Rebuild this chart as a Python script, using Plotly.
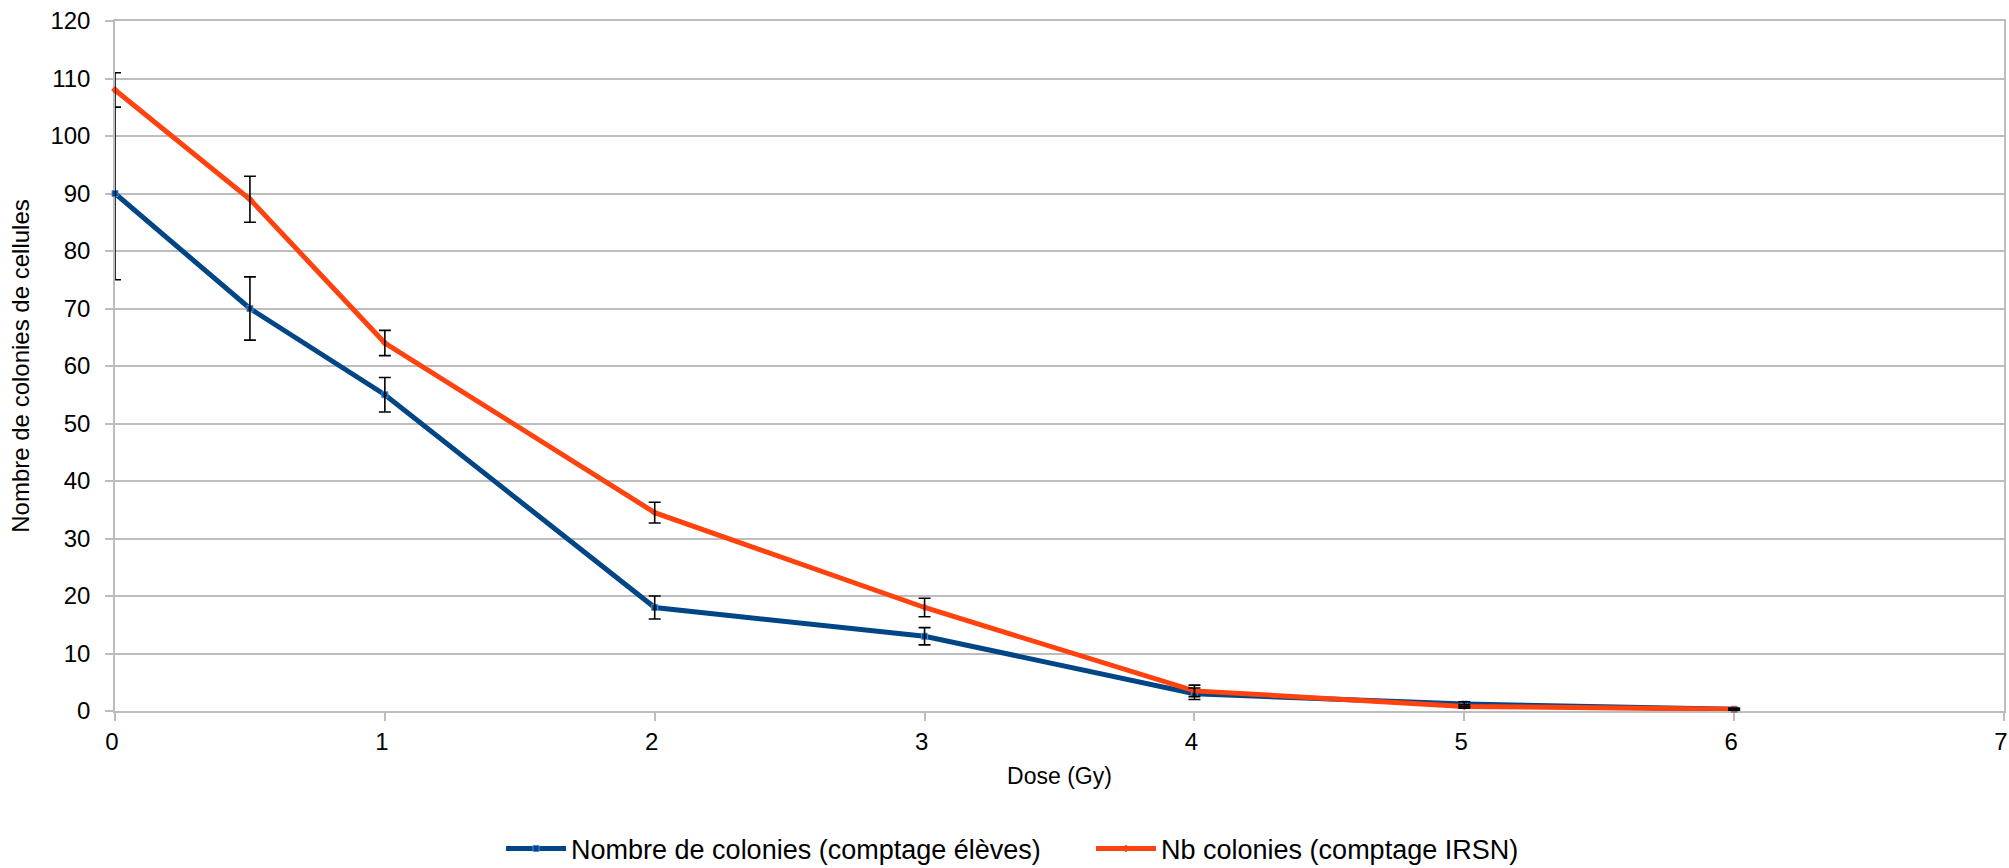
import plotly.graph_objects as go

dose = [0, 0.5, 1, 2, 3, 4, 5, 6]
eleves = [90, 70, 55, 18, 13, 3, 1.2, 0.3]
eleves_err = [15, 5.5, 3, 2, 1.5, 1, 0.4, 0.2]
irsn = [108, 89, 64, 34.5, 18, 3.5, 0.8, 0.3]
irsn_err = [3, 4, 2.2, 1.8, 1.6, 1, 0.3, 0.1]

name_eleves = "Nombre de colonies (comptage élèves)"
name_irsn = "Nb colonies (comptage IRSN)"
x_title = "Dose (Gy)"
y_title = "Nombre de colonies de cellules"
x_ticks = [0, 1, 2, 3, 4, 5, 6, 7]
y_ticks = [0, 10, 20, 30, 40, 50, 60, 70, 80, 90, 100, 110, 120]

BLUE = "#004586"
ORANGE = "#ff420e"
GRID = "#bdbdbd"
FONT = "Liberation Sans, Arial, sans-serif"

fig = go.Figure()
fig.add_trace(go.Scatter(
    x=dose, y=eleves, name=name_eleves, mode="lines+markers",
    line=dict(color=BLUE, width=5),
    marker=dict(symbol="square", size=6, color=BLUE, line=dict(color="#4f8fd6", width=1)),
    cliponaxis=False,
))
fig.add_trace(go.Scatter(
    x=dose, y=irsn, name=name_irsn, mode="lines+markers",
    line=dict(color=ORANGE, width=5),
    marker=dict(symbol="diamond", size=6, color=ORANGE),
    cliponaxis=False,
))
# error bars drawn on top
for vals, errs in ((eleves, eleves_err), (irsn, irsn_err)):
    fig.add_trace(go.Scatter(
        x=dose, y=vals, mode="markers", showlegend=False, hoverinfo="skip",
        marker=dict(size=1, color="rgba(0,0,0,0)"),
        error_y=dict(type="data", array=errs, visible=True, color="#000000",
                     thickness=1.6, width=6),
        cliponaxis=False,
    ))

fig.update_layout(
    width=2009, height=868,
    margin=dict(l=115, r=5, t=21, b=157, autoexpand=False),
    paper_bgcolor="white", plot_bgcolor="white",
    font=dict(family=FONT, size=24, color="#000000"),
    showlegend=True,
    legend=dict(orientation="h", xref="container", x=0.2494, xanchor="left",
                yref="container", y=0.022, yanchor="middle",
                font=dict(size=27), bgcolor="rgba(0,0,0,0)", itemwidth=60,
                entrywidth=515, entrywidthmode="pixels"),
)
fig.update_xaxes(
    range=[0, 7], tickvals=x_ticks, ticktext=[str(v) for v in x_ticks],
    showgrid=False, zeroline=False, automargin=False, layer="below traces",
    showline=True, linecolor=GRID, linewidth=1.5, mirror=True,
    ticks="outside", ticklen=8, tickcolor=GRID, tickwidth=1.5,
    tickfont=dict(size=24), ticklabeloverflow="allow", ticklabelstandoff=0,
    ticklabelshift=-3,
    title=dict(text=x_title, font=dict(size=23), standoff=14),
)
fig.update_yaxes(
    range=[0, 120], tickvals=y_ticks, ticktext=[str(v) for v in y_ticks],
    showgrid=True, gridcolor=GRID, gridwidth=1.5, zeroline=False, automargin=False,
    layer="below traces",
    showline=True, linecolor=GRID, linewidth=1.5, mirror=True,
    ticks="outside", ticklen=8, tickcolor=GRID, tickwidth=1.5,
    tickfont=dict(size=24), ticklabelstandoff=10, ticklabeloverflow="allow",
    title=dict(text=y_title, font=dict(size=24), standoff=14),
)

fig.write_html("out.html", config={"displayModeBar": False},
               post_script="document.body.style.margin='0';")
